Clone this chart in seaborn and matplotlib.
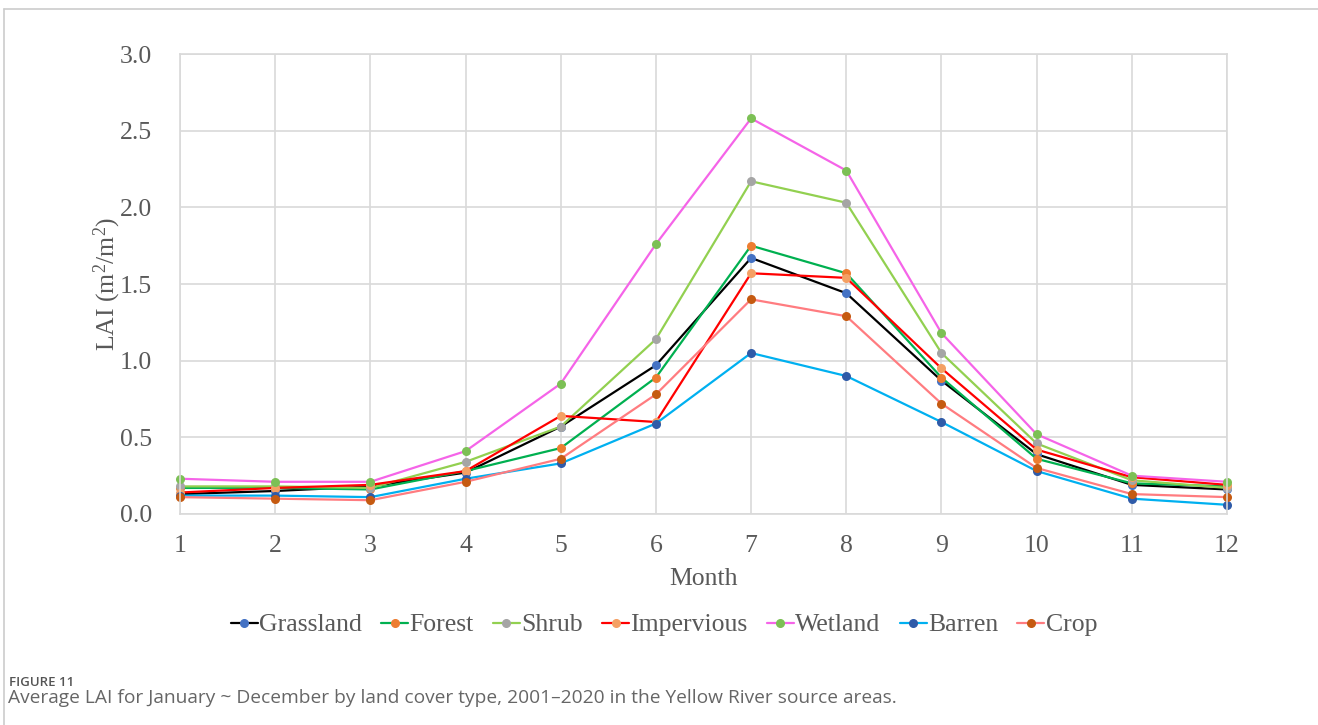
import matplotlib
matplotlib.use("Agg")
import matplotlib.pyplot as plt
from matplotlib.lines import Line2D
import seaborn as sns
import pandas as pd

# Monthly mean LAI (m2/m2) by land cover type, 2001-2020
months = list(range(1, 13))
grassland = [0.13, 0.15, 0.18, 0.27, 0.57, 0.97, 1.67, 1.44, 0.87, 0.39, 0.19, 0.16]
forest = [0.17, 0.17, 0.16, 0.28, 0.43, 0.89, 1.75, 1.57, 0.89, 0.36, 0.20, 0.18]
shrub = [0.18, 0.18, 0.17, 0.34, 0.57, 1.14, 2.17, 2.03, 1.05, 0.46, 0.22, 0.17]
impervious = [0.14, 0.17, 0.19, 0.28, 0.64, 0.60, 1.57, 1.54, 0.95, 0.42, 0.24, 0.19]
wetland = [0.23, 0.21, 0.21, 0.41, 0.85, 1.76, 2.58, 2.24, 1.18, 0.52, 0.25, 0.21]
barren = [0.12, 0.12, 0.11, 0.23, 0.33, 0.59, 1.05, 0.90, 0.60, 0.28, 0.10, 0.06]
crop = [0.11, 0.10, 0.09, 0.21, 0.36, 0.78, 1.40, 1.29, 0.72, 0.30, 0.13, 0.11]

types = ["Grassland", "Forest", "Shrub", "Impervious", "Wetland", "Barren", "Crop"]
series = [grassland, forest, shrub, impervious, wetland, barren, crop]

line_colors = ["#000000", "#00B050", "#92D050", "#FF0000", "#F564E8", "#00B0F0", "#FF7C80"]
marker_colors = ["#4472C4", "#ED7D31", "#A5A5A5", "#F4A064", "#7CC055", "#2F5BA8", "#C55A11"]

df = pd.DataFrame({
    "Month": months * len(types),
    "LAI": [v for s in series for v in s],
    "Type": [t for t in types for _ in months],
})

sns.set_theme(style="white")
plt.rcParams["font.family"] = ["Liberation Serif", "DejaVu Serif"]
plt.rcParams["mathtext.fontset"] = "custom"
plt.rcParams["mathtext.rm"] = "Liberation Serif"
plt.rcParams["mathtext.it"] = "Liberation Serif:italic"

fig = plt.figure(figsize=(13.18, 7.25), dpi=100)
ax = fig.add_axes([180 / 1318, 1 - 514 / 725, (1227 - 180) / 1318, (514 - 54) / 725])

sns.lineplot(data=df, x="Month", y="LAI", hue="Type", hue_order=types,
             palette=dict(zip(types, line_colors)), marker="o", markersize=6.5,
             markeredgewidth=0, linewidth=1.6, ax=ax, legend=False)

for ln, mc in zip(ax.lines, marker_colors):
    ln.set_markerfacecolor(mc)
    ln.set_markeredgecolor(mc)
    ln.set_clip_on(False)

text_color = "#595959"
fs = 18.5
ax.set_xlim(1, 12)
ax.set_ylim(0, 3.0)
ax.set_xticks(months)
yt = [0, 0.5, 1.0, 1.5, 2.0, 2.5, 3.0]
ax.set_yticks(yt)
ax.set_yticklabels([f"{v:.1f}" for v in yt])
ax.tick_params(axis="both", length=0, labelsize=fs, colors=text_color)
ax.tick_params(axis="y", pad=20)
ax.tick_params(axis="x", pad=15)
ax.grid(True, color="#D9D9D9", linewidth=1.2)
ax.set_axisbelow(True)
for sp in ax.spines.values():
    sp.set_color("#D9D9D9")
    sp.set_linewidth(1.2)

ax.set_xlabel("Month", fontsize=fs, color=text_color, labelpad=8)
ax.set_ylabel("LAI (m$^2$/m$^2$)", fontsize=fs, color=text_color, labelpad=-2)

handles = [Line2D([0], [0], color=lc, linewidth=1.6, marker="o", markersize=5.5,
                  markerfacecolor=mc, markeredgecolor=mc)
           for lc, mc in zip(line_colors, marker_colors)]
leg = fig.legend(handles, types, loc="center", bbox_to_anchor=(664 / 1318, 1 - 625 / 725),
                 ncol=7, frameon=False, fontsize=fs, handlelength=1.05, handletextpad=0.05,
                 columnspacing=0.75)
for t in leg.get_texts():
    t.set_color(text_color)

# Outer frame of the figure panel
fig.add_artist(Line2D([4 / 1318, 4 / 1318], [0, 1 - 9 / 725], transform=fig.transFigure,
                      color="#CCCCCC", linewidth=1.2))
fig.add_artist(Line2D([4 / 1318, 1], [1 - 9 / 725, 1 - 9 / 725], transform=fig.transFigure,
                      color="#CCCCCC", linewidth=1.2))

fig.text(9 / 1318, 1 - 683 / 725, "FIGURE 11", fontsize=9.5, fontweight="semibold",
         family=["Open Sans", "DejaVu Sans"], color="#555555", va="center", ha="left")
fig.text(8 / 1318, 1 - 698 / 725,
         "Average LAI for January ~ December by land cover type, 2001\u20132020 in the Yellow River source areas.",
         fontsize=13.8, family=["Open Sans", "DejaVu Sans"], color="#666666", va="center", ha="left")

fig.savefig("out.png", dpi=100)
